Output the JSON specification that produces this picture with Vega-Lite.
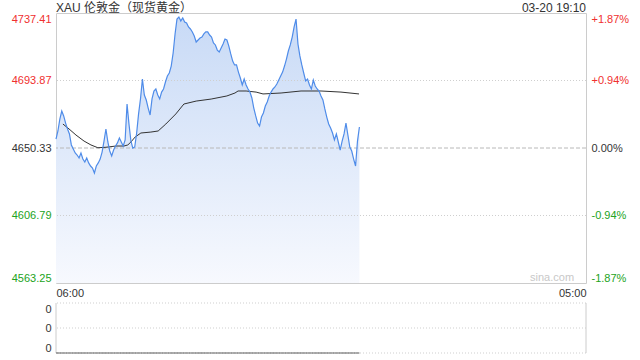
{
  "$schema": "https://vega.github.io/schema/vega-lite/v6.json",
  "padding": {"left": 10, "top": 1, "right": 5, "bottom": 5},
  "background": "white",
  "spacing": 20,
  "bounds": "flush",
  "config": {
    "view": {"stroke": "#cccccc"},
    "font": "Liberation Sans",
    "axis": {"labelFont": "Liberation Sans", "labelFontSize": 11, "labelColor": "#333333", "ticks": false, "domain": false, "grid": false, "title": null, "labelOverlap": false}
  },
  "datasets": {
    "price": [
      {"m":0,"p":4656.1,"v":0},{"m":5,"p":4661.3,"v":0},{"m":10,"p":4669.0,"v":0},{"m":15,"p":4674.2,"v":0},{"m":20,"p":4671.0,"v":0},
      {"m":25,"p":4666.4,"v":0},{"m":30,"p":4662.6,"v":0},{"m":35,"p":4659.4,"v":0},{"m":40,"p":4652.3,"v":0},{"m":45,"p":4649.7,"v":0},
      {"m":50,"p":4647.1,"v":0},{"m":55,"p":4645.8,"v":0},{"m":60,"p":4643.9,"v":0},{"m":65,"p":4647.1,"v":0},{"m":70,"p":4643.2,"v":0},
      {"m":75,"p":4641.3,"v":0},{"m":80,"p":4643.9,"v":0},{"m":85,"p":4640.7,"v":0},{"m":90,"p":4638.7,"v":0},{"m":95,"p":4637.4,"v":0},
      {"m":100,"p":4634.2,"v":0},{"m":105,"p":4638.7,"v":0},{"m":110,"p":4640.7,"v":0},{"m":115,"p":4643.2,"v":0},{"m":120,"p":4647.7,"v":0},
      {"m":125,"p":4654.8,"v":0},{"m":130,"p":4662.6,"v":0},{"m":135,"p":4654.2,"v":0},{"m":140,"p":4648.4,"v":0},{"m":145,"p":4645.2,"v":0},
      {"m":150,"p":4649.0,"v":0},{"m":155,"p":4651.6,"v":0},{"m":160,"p":4653.6,"v":0},{"m":165,"p":4656.8,"v":0},{"m":170,"p":4654.2,"v":0},
      {"m":175,"p":4651.6,"v":0},{"m":180,"p":4655.5,"v":0},{"m":185,"p":4678.7,"v":0},{"m":190,"p":4665.8,"v":0},{"m":195,"p":4654.9,"v":0},
      {"m":200,"p":4650.3,"v":0},{"m":205,"p":4651.0,"v":0},{"m":210,"p":4660.0,"v":0},{"m":215,"p":4672.3,"v":0},{"m":220,"p":4682.0,"v":0},
      {"m":225,"p":4694.8,"v":0},{"m":230,"p":4684.5,"v":0},{"m":235,"p":4681.3,"v":0},{"m":240,"p":4676.1,"v":0},{"m":245,"p":4671.6,"v":0},
      {"m":250,"p":4682.0,"v":0},{"m":255,"p":4687.1,"v":0},{"m":260,"p":4688.4,"v":0},{"m":265,"p":4684.5,"v":0},{"m":270,"p":4682.0,"v":0},
      {"m":275,"p":4686.4,"v":0},{"m":280,"p":4688.4,"v":0},{"m":285,"p":4692.9,"v":0},{"m":290,"p":4696.8,"v":0},{"m":295,"p":4698.7,"v":0},
      {"m":300,"p":4703.2,"v":0},{"m":305,"p":4711.6,"v":0},{"m":310,"p":4723.9,"v":0},{"m":315,"p":4733.5,"v":0},{"m":320,"p":4734.8,"v":0},
      {"m":325,"p":4732.3,"v":0},{"m":330,"p":4734.2,"v":0},{"m":335,"p":4731.6,"v":0},{"m":340,"p":4731.0,"v":0},{"m":345,"p":4728.4,"v":0},
      {"m":350,"p":4727.1,"v":0},{"m":355,"p":4725.2,"v":0},{"m":360,"p":4722.6,"v":0},{"m":365,"p":4718.7,"v":0},{"m":370,"p":4720.0,"v":0},
      {"m":375,"p":4721.3,"v":0},{"m":380,"p":4721.9,"v":0},{"m":385,"p":4723.9,"v":0},{"m":390,"p":4725.2,"v":0},{"m":395,"p":4725.2,"v":0},
      {"m":400,"p":4723.2,"v":0},{"m":405,"p":4721.9,"v":0},{"m":410,"p":4718.1,"v":0},{"m":415,"p":4716.8,"v":0},{"m":420,"p":4713.5,"v":0},
      {"m":425,"p":4712.3,"v":0},{"m":430,"p":4714.8,"v":0},{"m":435,"p":4717.4,"v":0},{"m":440,"p":4720.6,"v":0},{"m":445,"p":4720.0,"v":0},
      {"m":450,"p":4716.1,"v":0},{"m":455,"p":4711.0,"v":0},{"m":460,"p":4706.4,"v":0},{"m":465,"p":4703.9,"v":0},{"m":470,"p":4703.9,"v":0},
      {"m":475,"p":4699.3,"v":0},{"m":480,"p":4695.5,"v":0},{"m":485,"p":4691.0,"v":0},{"m":490,"p":4694.8,"v":0},{"m":495,"p":4691.0,"v":0},
      {"m":500,"p":4688.4,"v":0},{"m":505,"p":4686.4,"v":0},{"m":510,"p":4682.6,"v":0},{"m":515,"p":4676.1,"v":0},{"m":520,"p":4671.0,"v":0},
      {"m":525,"p":4666.4,"v":0},{"m":530,"p":4664.5,"v":0},{"m":535,"p":4670.3,"v":0},{"m":540,"p":4672.9,"v":0},{"m":545,"p":4677.4,"v":0},
      {"m":550,"p":4680.0,"v":0},{"m":555,"p":4683.9,"v":0},{"m":560,"p":4686.4,"v":0},{"m":565,"p":4688.4,"v":0},{"m":570,"p":4689.7,"v":0},
      {"m":575,"p":4691.6,"v":0},{"m":580,"p":4694.2,"v":0},{"m":585,"p":4696.8,"v":0},{"m":590,"p":4699.3,"v":0},{"m":595,"p":4703.2,"v":0},
      {"m":600,"p":4707.7,"v":0},{"m":605,"p":4712.9,"v":0},{"m":610,"p":4716.8,"v":0},{"m":615,"p":4721.9,"v":0},{"m":620,"p":4728.4,"v":0},
      {"m":625,"p":4733.5,"v":0},{"m":630,"p":4717.4,"v":0},{"m":635,"p":4709.7,"v":0},{"m":640,"p":4703.9,"v":0},{"m":645,"p":4698.7,"v":0},
      {"m":650,"p":4693.6,"v":0},{"m":655,"p":4694.8,"v":0},{"m":660,"p":4691.0,"v":0},{"m":665,"p":4688.4,"v":0},{"m":670,"p":4694.2,"v":0},
      {"m":675,"p":4690.3,"v":0},{"m":680,"p":4688.4,"v":0},{"m":685,"p":4687.1,"v":0},{"m":690,"p":4683.9,"v":0},{"m":695,"p":4681.3,"v":0},
      {"m":700,"p":4675.5,"v":0},{"m":705,"p":4670.3,"v":0},{"m":710,"p":4665.8,"v":0},{"m":715,"p":4663.2,"v":0},{"m":720,"p":4660.0,"v":0},
      {"m":725,"p":4655.5,"v":0},{"m":730,"p":4659.4,"v":0},{"m":735,"p":4654.2,"v":0},{"m":740,"p":4649.0,"v":0},{"m":745,"p":4654.8,"v":0},
      {"m":750,"p":4659.4,"v":0},{"m":755,"p":4666.4,"v":0},{"m":760,"p":4658.7,"v":0},{"m":765,"p":4650.9,"v":0},{"m":770,"p":4648.4,"v":0},
      {"m":775,"p":4643.2,"v":0},{"m":780,"p":4638.7,"v":0},{"m":785,"p":4654.8,"v":0},{"m":790,"p":4663.9,"v":0}
    ],
    "avg": [
      {"m":18,"a":4665.8},{"m":34,"a":4662.6},{"m":52,"a":4658.7},{"m":73,"a":4654.8},{"m":91,"a":4652.3},
      {"m":109,"a":4650.5},{"m":130,"a":4650.8},{"m":156,"a":4651.6},{"m":177,"a":4651.6},{"m":187,"a":4652.3},
      {"m":195,"a":4654.2},{"m":206,"a":4657.4},{"m":221,"a":4660.0},{"m":247,"a":4660.6},{"m":266,"a":4661.3},
      {"m":286,"a":4665.8},{"m":312,"a":4672.3},{"m":333,"a":4678.7},{"m":365,"a":4680.6},{"m":404,"a":4681.9},
      {"m":445,"a":4683.9},{"m":466,"a":4685.8},{"m":474,"a":4687.1},{"m":495,"a":4687.1},{"m":521,"a":4686.4},
      {"m":539,"a":4685.2},{"m":586,"a":4685.8},{"m":638,"a":4687.1},{"m":690,"a":4687.1},{"m":742,"a":4686.4},
      {"m":789,"a":4685.2}
    ]
  },
  "vconcat": [
    {
      "width": 530,
      "height": 270,
      "resolve": {"axis": {"y": "independent"}},
      "layer": [
        {
          "data": {"name": "price"},
          "mark": {"type": "area", "color": {"gradient": "linear", "x1": 0, "y1": 0, "x2": 0, "y2": 1, "stops": [{"offset": 0, "color": "#c8daf6"}, {"offset": 1, "color": "#f7f9fe"}]}},
          "encoding": {
            "x": {"field": "m", "type": "quantitative", "scale": {"domain": [0, 1380], "nice": false, "zero": false},
                  "axis": {"values": [0, 1380], "labelExpr": "datum.value == 0 ? '06:00' : '05:00'", "labelFlush": true, "labelPadding": 4}},
            "y": {"field": "p", "type": "quantitative", "scale": {"domain": [4563.25, 4737.41], "nice": false, "zero": false},
                  "axis": {"orient": "left", "values": [4563.25, 4606.79, 4650.33, 4693.87, 4737.41], "format": ".2f", "labelFlush": true, "labelPadding": 5,
                           "labelColor": {"condition": [{"test": "datum.value > 4650.4", "value": "#f0302f"}, {"test": "datum.value < 4650.3", "value": "#22a322"}], "value": "#333333"}}},
            "y2": {"datum": 4563.25}
          }
        },
        {
          "data": {"values": [{"p": 4606.79}, {"p": 4693.87}]},
          "mark": {"type": "rule", "color": "#cfcfcf", "strokeDash": [1, 2], "strokeWidth": 1},
          "encoding": {"y": {"field": "p", "type": "quantitative", "axis": null}}
        },
        {
          "data": {"values": [{"p": 4650.33}]},
          "mark": {"type": "rule", "color": "#b8b8b8", "strokeDash": [4, 2], "strokeWidth": 1},
          "encoding": {"y": {"field": "p", "type": "quantitative",
                             "axis": {"orient": "right", "values": [4563.25, 4606.79, 4650.33, 4693.87, 4737.41], "labelFlush": true, "labelPadding": 5,
                                      "labelExpr": "(datum.value > 4650.4 ? '+' : datum.value < 4650.3 ? '-' : '') + format(abs(datum.value - 4650.33) / 4650.33 * 100, '.2f') + '%'",
                                      "labelColor": {"condition": [{"test": "datum.value > 4650.4", "value": "#f0302f"}, {"test": "datum.value < 4650.3", "value": "#22a322"}], "value": "#333333"}}}}
        },
        {
          "data": {"name": "avg"},
          "mark": {"type": "line", "color": "#333333", "strokeWidth": 1},
          "encoding": {"x": {"field": "m", "type": "quantitative"}, "y": {"field": "a", "type": "quantitative", "axis": null}}
        },
        {
          "data": {"name": "price"},
          "mark": {"type": "line", "color": "#4f8ce9", "strokeWidth": 1.2},
          "encoding": {"x": {"field": "m", "type": "quantitative"}, "y": {"field": "p", "type": "quantitative", "axis": null}}
        },
        {
          "data": {"values": [{"t": "XAU 伦敦金（现货黄金）"}]},
          "mark": {"type": "text", "align": "left", "baseline": "bottom", "dy": 2, "fontSize": 12, "color": "#333333", "font": "Liberation Sans, Noto Sans CJK SC"},
          "encoding": {"x": {"datum": 0}, "y": {"datum": 4737.41, "axis": null}, "text": {"field": "t"}}
        },
        {
          "data": {"values": [{"t": "03-20 19:10"}]},
          "mark": {"type": "text", "align": "right", "baseline": "bottom", "dy": 2, "fontSize": 12, "color": "#333333"},
          "encoding": {"x": {"datum": 1380}, "y": {"datum": 4737.41, "axis": null}, "text": {"field": "t"}}
        },
        {
          "data": {"values": [{"t": "sina.com"}]},
          "mark": {"type": "text", "align": "right", "baseline": "middle", "fontSize": 11, "color": "#c8c8c8"},
          "encoding": {"x": {"datum": 1349}, "y": {"datum": 4566.5, "axis": null}, "text": {"field": "t"}}
        }
      ]
    },
    {
      "width": 530,
      "height": 50,
      "view": {"stroke": null},
      "layer": [
        {
          "data": {"values": [{"v": 0}, {"v": 1}, {"v": 2}]},
          "mark": {"type": "rule", "color": "#cfcfcf", "strokeDash": [1, 2]},
          "encoding": {"y": {"field": "v", "type": "quantitative", "scale": {"domain": [0, 2], "nice": false},
                             "axis": {"values": [0, 1, 2], "labelExpr": "'0'", "labelFlush": true, "labelOverlap": false, "labelPadding": 5}}}
        },
        {
          "data": {"values": [{"x": 0}, {"x": 1380}]},
          "mark": {"type": "rule", "color": "#cccccc"},
          "encoding": {"x": {"field": "x", "type": "quantitative", "scale": {"domain": [0, 1380], "nice": false}, "axis": null}}
        },
        {
          "data": {"name": "price"},
          "mark": {"type": "line", "color": "#555555", "strokeWidth": 1},
          "encoding": {"x": {"field": "m", "type": "quantitative", "axis": null},
                       "y": {"field": "v", "type": "quantitative", "axis": {"values": [0, 1, 2], "labelExpr": "'0'", "labelFlush": true, "labelOverlap": false, "labelPadding": 5}}}
        }
      ]
    }
  ]
}
